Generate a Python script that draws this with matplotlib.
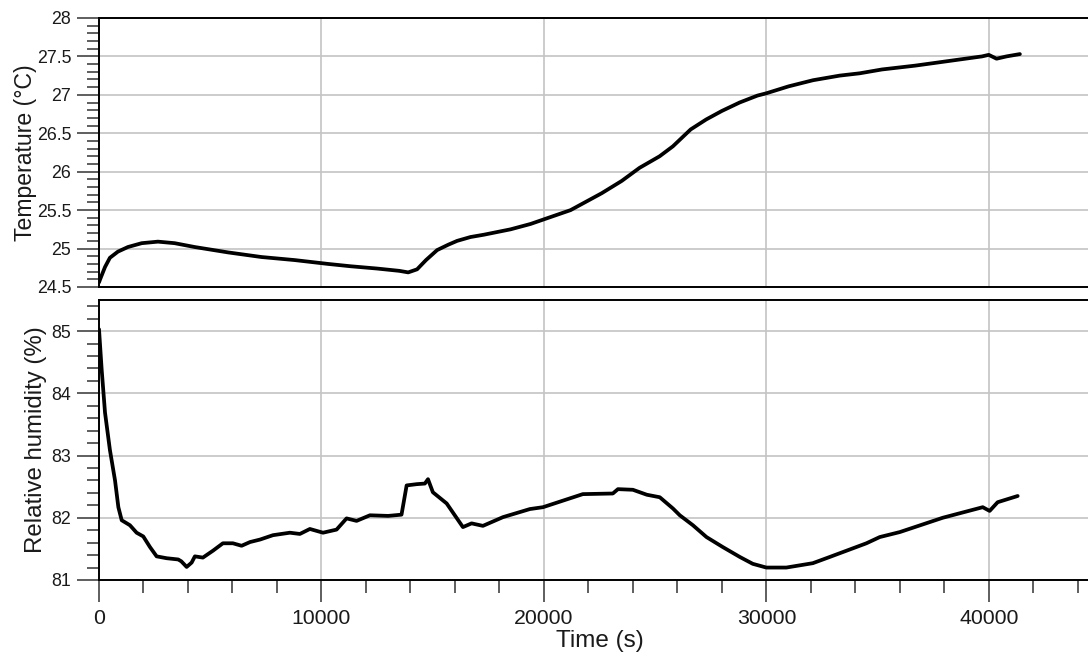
#!/usr/bin/env python3
"""
Temperature and relative humidity logged over one run (two stacked panels).
"""

import matplotlib
matplotlib.use('Agg')
import matplotlib.pyplot as plt
from matplotlib.ticker import MultipleLocator

# Temperature record: time (s) and value (deg C)
temp_time = [0, 50, 270, 490, 850, 1300, 1920, 2650, 3400, 4300, 5800, 7300,
             8800, 10300, 11300, 12500, 13500, 13900, 14300, 14700, 15200,
             15700, 16100, 16700, 17300, 18500, 19400, 20000, 21200, 22600,
             23500, 24300, 25200, 25800, 26600, 27300, 28000, 28800, 29600,
             30000, 31000, 32100, 33300, 34200, 35200, 36700, 38200, 39700,
             40000, 40350, 40800, 41400]
temp_vals = [24.56, 24.60, 24.76, 24.88, 24.96, 25.02, 25.07, 25.09, 25.07,
             25.02, 24.95, 24.89, 24.85, 24.80, 24.77, 24.74, 24.71, 24.69,
             24.73, 24.85, 24.98, 25.05, 25.10, 25.15, 25.18, 25.25, 25.32,
             25.38, 25.50, 25.72, 25.88, 26.05, 26.20, 26.33, 26.55, 26.68,
             26.79, 26.90, 26.99, 27.02, 27.11, 27.19, 27.25, 27.28, 27.33,
             27.38, 27.44, 27.50, 27.52, 27.47, 27.50, 27.53]

# Relative humidity record: time (s) and value (%)
rh_time = [0, 120, 270, 490, 720, 870, 1020, 1390, 1690, 1990, 2290, 2590,
           3040, 3560, 3700, 3940, 4165, 4310, 4670, 5120, 5570, 6020, 6410,
           6790, 7240, 7820, 8580, 9030, 9480, 10070, 10680, 11130, 11580,
           12180, 13000, 13600, 13830, 14280, 14650, 14790, 15010, 15630,
           16360, 16750, 17260, 18160, 19370, 19960, 21750, 23100, 23330,
           24000, 24630, 25210, 25800, 26110, 26700, 27310, 28040, 28810,
           29390, 30000, 30900, 32090, 32850, 33600, 34500, 35100, 36000,
           37930, 39730, 40040, 40400, 41300]
rh_vals = [85.03, 84.38, 83.69, 83.09, 82.60, 82.17, 81.96, 81.88, 81.76,
           81.70, 81.53, 81.38, 81.35, 81.33, 81.30, 81.21, 81.28, 81.38,
           81.36, 81.47, 81.59, 81.59, 81.55, 81.61, 81.65, 81.72, 81.76,
           81.74, 81.82, 81.76, 81.81, 81.99, 81.95, 82.04, 82.03, 82.05,
           82.52, 82.54, 82.55, 82.62, 82.41, 82.23, 81.85, 81.91, 81.87,
           82.01, 82.14, 82.17, 82.38, 82.39, 82.46, 82.45, 82.37, 82.33,
           82.15, 82.04, 81.88, 81.69, 81.53, 81.37, 81.26, 81.20, 81.20,
           81.27, 81.37, 81.47, 81.59, 81.69, 81.77, 82.00, 82.17, 82.11,
           82.25, 82.35]

plt.rcParams['font.family'] = ['Liberation Sans', 'DejaVu Sans']

GRID = '#c4c4c4'
TEXT = '#1a1a1a'


def style_axes(ax, ylim, y_major, y_minor):
  """Common frame, ticks and grid for one panel."""
  ax.set_xlim(0, 45000)
  ax.set_ylim(*ylim)
  ax.yaxis.set_major_locator(MultipleLocator(y_major))
  ax.yaxis.set_minor_locator(MultipleLocator(y_minor))
  ax.xaxis.set_major_locator(MultipleLocator(10000))
  ax.xaxis.set_minor_locator(MultipleLocator(2000))
  ax.grid(True, which='major', color=GRID, linewidth=1.2)
  ax.set_axisbelow(True)
  ax.tick_params(axis='y', which='major', direction='out', length=16,
                 width=1.1, color='#333333', labelsize=12.8, labelcolor=TEXT, pad=4)
  ax.tick_params(axis='y', which='minor', direction='out', length=9,
                 width=1.1, color='#333333')
  for side in ['left', 'top', 'bottom']:
    ax.spines[side].set_linewidth(1.4)
    ax.spines[side].set_color('black')
  ax.spines['right'].set_visible(False)


fig = plt.figure(figsize=(10.88, 6.53), dpi=100)

# Panel placement in figure fractions (right edge runs past the figure)
ax_t = fig.add_axes([0.091, 0.5605, 0.92, 0.412])
ax_h = fig.add_axes([0.091, 0.1118, 0.92, 0.4288])

# Temperature panel
style_axes(ax_t, (24.5, 28.0), 0.5, 0.1)
ax_t.plot(temp_time, temp_vals, color='black', linewidth=2.7,
          solid_joinstyle='round', solid_capstyle='round')
ax_t.tick_params(axis='x', which='both', bottom=False, labelbottom=False)
ax_t.yaxis.set_major_formatter(plt.FuncFormatter(lambda v, p: f'{v:g}'))
ax_t.set_ylabel('Temperature (\u00b0C)', fontsize=16.6, color=TEXT, labelpad=-0.5)

# Humidity panel
style_axes(ax_h, (81.0, 85.5), 1, 0.2)
ax_h.plot(rh_time, rh_vals, color='black', linewidth=2.7,
          solid_joinstyle='round', solid_capstyle='round')
ax_h.tick_params(axis='x', which='major', direction='out', length=16,
                 width=1.1, color='#333333', labelsize=15.3, labelcolor=TEXT, pad=5)
ax_h.tick_params(axis='x', which='minor', direction='out', length=9,
                 width=1.1, color='#333333')
ax_h.set_ylabel('Relative humidity (%)', fontsize=17.3, color=TEXT, labelpad=3)
ax_h.set_xlabel('Time (s)', fontsize=17.5, color=TEXT, labelpad=1)

fig.savefig('out.png', dpi=100)
